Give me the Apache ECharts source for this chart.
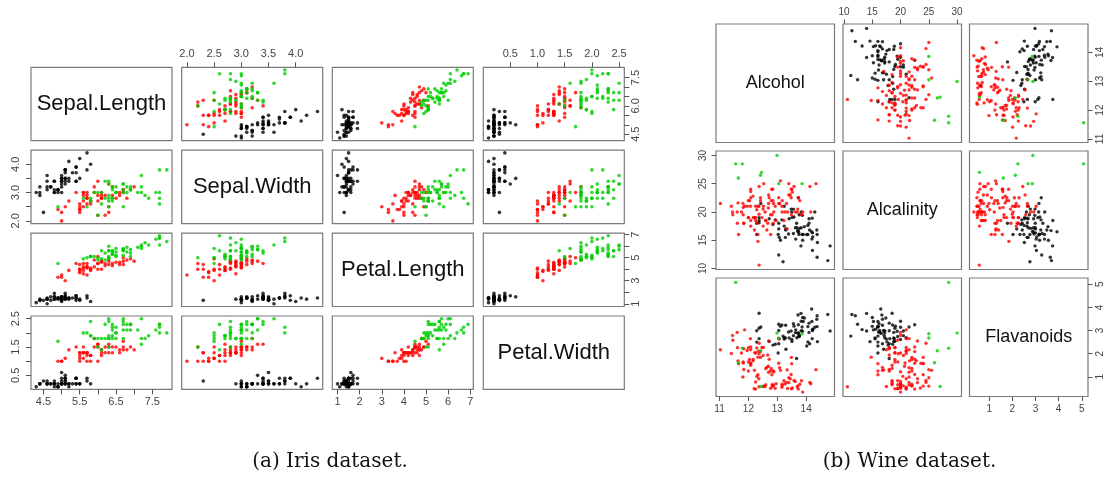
<!DOCTYPE html>
<html><head><meta charset="utf-8">
<script src="https://cdn.jsdelivr.net/npm/echarts@6/dist/echarts.min.js"></script>
<style>html,body{margin:0;padding:0;background:#fff}#c{width:1107px;height:477px}</style>
</head><body><div id="c"></div>
<script>
// ---------------- DATA ----------------
const irisVars = ['Sepal.Length','Sepal.Width','Petal.Length','Petal.Width'];
// rows: [Sepal.Length, Sepal.Width, Petal.Length, Petal.Width]
const irisSetosa = [
[5.1,3.5,1.4,0.2],[4.9,3.0,1.4,0.2],[4.7,3.2,1.3,0.2],[4.6,3.1,1.5,0.2],[5.0,3.6,1.4,0.2],
[5.4,3.9,1.7,0.4],[4.6,3.4,1.4,0.3],[5.0,3.4,1.5,0.2],[4.4,2.9,1.4,0.2],[4.9,3.1,1.5,0.1],
[5.4,3.7,1.5,0.2],[4.8,3.4,1.6,0.2],[4.8,3.0,1.4,0.1],[4.3,3.0,1.1,0.1],[5.8,4.0,1.2,0.2],
[5.7,4.4,1.5,0.4],[5.4,3.9,1.3,0.4],[5.1,3.5,1.4,0.3],[5.7,3.8,1.7,0.3],[5.1,3.8,1.5,0.3],
[5.4,3.4,1.7,0.2],[5.1,3.7,1.5,0.4],[4.6,3.6,1.0,0.2],[5.1,3.3,1.7,0.5],[4.8,3.4,1.9,0.2],
[5.0,3.0,1.6,0.2],[5.0,3.4,1.6,0.4],[5.2,3.5,1.5,0.2],[5.2,3.4,1.4,0.2],[4.7,3.2,1.6,0.2],
[4.8,3.1,1.6,0.2],[5.4,3.4,1.5,0.4],[5.2,4.1,1.5,0.1],[5.5,4.2,1.4,0.2],[4.9,3.1,1.5,0.1],
[5.0,3.2,1.2,0.2],[5.5,3.5,1.3,0.2],[4.9,3.1,1.5,0.1],[4.4,3.0,1.3,0.2],[5.1,3.4,1.5,0.2],
[5.0,3.5,1.3,0.3],[4.5,2.3,1.3,0.3],[4.4,3.2,1.3,0.2],[5.0,3.5,1.6,0.6],[5.1,3.8,1.9,0.4],
[4.8,3.0,1.4,0.3],[5.1,3.8,1.6,0.2],[4.6,3.2,1.4,0.2],[5.3,3.7,1.5,0.2],[5.0,3.3,1.4,0.2]];
const irisVersicolor = [
[7.0,3.2,4.7,1.4],[6.4,3.2,4.5,1.5],[6.9,3.1,4.9,1.5],[5.5,2.3,4.0,1.3],[6.5,2.8,4.6,1.5],
[5.7,2.8,4.5,1.3],[6.3,3.3,4.7,1.6],[4.9,2.4,3.3,1.0],[6.6,2.9,4.6,1.3],[5.2,2.7,3.9,1.4],
[5.0,2.0,3.5,1.0],[5.9,3.0,4.2,1.5],[6.0,2.2,4.0,1.0],[6.1,2.9,4.7,1.4],[5.6,2.9,3.6,1.3],
[6.7,3.1,4.4,1.4],[5.6,3.0,4.5,1.5],[5.8,2.7,4.1,1.0],[6.2,2.2,4.5,1.5],[5.6,2.5,3.9,1.1],
[5.9,3.2,4.8,1.8],[6.1,2.8,4.0,1.3],[6.3,2.5,4.9,1.5],[6.1,2.8,4.7,1.2],[6.4,2.9,4.3,1.3],
[6.6,3.0,4.4,1.4],[6.8,2.8,4.8,1.4],[6.7,3.0,5.0,1.7],[6.0,2.9,4.5,1.5],[5.7,2.6,3.5,1.0],
[5.5,2.4,3.8,1.1],[5.5,2.4,3.7,1.0],[5.8,2.7,3.9,1.2],[6.0,2.7,5.1,1.6],[5.4,3.0,4.5,1.5],
[6.0,3.4,4.5,1.6],[6.7,3.1,4.7,1.5],[6.3,2.3,4.4,1.3],[5.6,3.0,4.1,1.3],[5.5,2.5,4.0,1.3],
[5.5,2.6,4.4,1.2],[6.1,3.0,4.6,1.4],[5.8,2.6,4.0,1.2],[5.0,2.3,3.3,1.0],[5.6,2.7,4.2,1.3],
[5.7,3.0,4.2,1.2],[5.7,2.9,4.2,1.3],[6.2,2.9,4.3,1.3],[5.1,2.5,3.0,1.1],[5.7,2.8,4.1,1.3]];
const irisVirginica = [
[6.3,3.3,6.0,2.5],[5.8,2.7,5.1,1.9],[7.1,3.0,5.9,2.1],[6.3,2.9,5.6,1.8],[6.5,3.0,5.8,2.2],
[7.6,3.0,6.6,2.1],[4.9,2.5,4.5,1.7],[7.3,2.9,6.3,1.8],[6.7,2.5,5.8,1.8],[7.2,3.6,6.1,2.5],
[6.5,3.2,5.1,2.0],[6.4,2.7,5.3,1.9],[6.8,3.0,5.5,2.1],[5.7,2.5,5.0,2.0],[5.8,2.8,5.1,2.4],
[6.4,3.2,5.3,2.3],[6.5,3.0,5.5,1.8],[7.7,3.8,6.7,2.2],[7.7,2.6,6.9,2.3],[6.0,2.2,5.0,1.5],
[6.9,3.2,5.7,2.3],[5.6,2.8,4.9,2.0],[7.7,2.8,6.7,2.0],[6.3,2.7,4.9,1.8],[6.7,3.3,5.7,2.1],
[7.2,3.2,6.0,1.8],[6.2,2.8,4.8,1.8],[6.1,3.0,4.9,1.8],[6.4,2.8,5.6,2.1],[7.2,3.0,5.8,1.6],
[7.4,2.8,6.1,1.9],[7.9,3.8,6.4,2.0],[6.4,2.8,5.6,2.2],[6.3,2.8,5.1,1.5],[6.1,2.6,5.6,1.4],
[7.7,3.0,6.1,2.3],[6.3,3.4,5.6,2.4],[6.4,3.1,5.5,1.8],[6.0,3.0,4.8,1.8],[6.9,3.1,5.4,2.1],
[6.7,3.1,5.6,2.4],[6.9,3.1,5.1,2.3],[5.8,2.7,5.1,1.9],[6.8,3.2,5.9,2.3],[6.7,3.3,5.7,2.5],
[6.7,3.0,5.2,2.3],[6.3,2.5,5.0,1.9],[6.5,3.0,5.2,2.0],[6.2,3.4,5.4,2.3],[5.9,3.0,5.1,1.8]];
const irisTicks = [[4.5,5,5.5,6,6.5,7,7.5],[2,2.5,3,3.5,4],[1,2,3,4,5,6,7],[0.5,1,1.5,2,2.5]];
const irisDecimals = [1,1,0,1];
const irisTopLabels    = [null,[2,2.5,3,3.5,4],null,[0.5,1,1.5,2,2.5]];
const irisBottomLabels = [[4.5,5.5,6.5,7.5],null,[1,2,3,4,5,6,7],null];
const irisLeftLabels   = [null,[2,3,4],null,[0.5,1.5,2.5]];
const irisRightLabels  = [[4.5,6,7.5],null,[1,3,5,7],null];

const wineVars = ['Alcohol','Alcalinity','Flavanoids'];
// rows: [Alcohol, Alcalinity, Flavanoids]
const wineBlack = [
[14.23,15.6,3.06],[13.2,11.2,2.76],[13.16,18.6,3.24],[14.37,16.8,3.49],[13.24,21,2.69],[14.2,15.2,3.39],
[14.39,14.6,2.52],[14.06,17.6,2.51],[14.83,14,2.98],[13.86,16,3.15],[14.1,18,3.32],[14.12,16.8,2.43],
[13.75,16,2.76],[14.75,11.4,3.69],[14.38,12,3.64],[13.63,17.2,2.91],[14.3,20,3.14],[13.83,20,3.4],
[14.19,16.5,3.93],[13.64,15.2,3.03],[14.06,16,3.17],[12.93,18.6,2.41],[13.71,16.6,2.88],[12.85,17.8,2.37],
[13.5,20,2.61],[13.39,16.1,2.94],[13.3,17,2.19],[13.87,19.4,2.97],[14.02,16,2.33],[13.73,22.5,3.25],
[13.58,19.1,3.19],[13.68,17.2,2.69],[13.76,19.5,2.74],[13.51,19,2.53],[13.48,20.5,2.98],[13.28,15.5,2.68],
[13.05,18,2.43],[13.07,15.5,2.64],[14.22,13.2,3.04],[13.56,16.2,3.29],[13.41,18.8,2.68],[13.88,15,3.56],
[13.24,17.5,2.63],[13.05,17,3],[14.21,18.9,2.65],[14.38,16,3.17],[13.9,16,3.39],[14.1,18.8,2.92],
[13.94,17.4,3.54],[13.05,12.4,3.27],[13.83,17.2,2.99],[13.82,14,3.74],[13.77,17.1,2.79],[13.74,16.4,2.9],
[13.56,20.5,2.78],[14.22,16.3,3],[13.29,16.8,3.23],[13.72,16.7,3.67],
[13.67,18,1.79],[12.37,19,3.1],[12.37,18.1,2.65],[13.11,15,3.18],[13.03,16,2.03],[12.72,18.8,2.53],
[12.29,16,2.5],[12.37,18.5,3.75],[12.29,18,2.99],[12.43,21.5,3.15]];
const wineRed = [
[12.37,10.6,0.57],[12.33,16,1.09],[12.64,16.8,1.41],[12.17,19,1.75],[12.37,19.6,2],[13.34,17,1.3],
[12.21,16.8,1.28],[12.29,20.4,1.02],[13.49,24,1.84],[11.96,21,2.14],[11.66,16,1.57],[11.84,18,1.32],
[12.33,14.8,1.85],[12.7,23,2.55],[12,19,2.26],[12.08,24,1.58],[13.05,22.5,1.59],[11.84,18,2.21],
[12.67,18,1.94],[12.16,22.8,1.69],[11.64,21.6,1.69],[12.08,23.6,1.59],[12.08,18.5,1.5],[12,22,1.25],
[12.69,20.7,1.46],[12.29,18,2.25],[11.62,18,2.26],[12.47,19,2.27],[11.81,21.5,0.99],[12.08,17.5,2.17],
[12.6,18.5,1.36],[12.34,21,2.11],[11.82,19.5,1.64],[12.51,20.5,1.92],[12.42,22,1.84],[12.25,19,2.03],
[12.72,22.5,1.76],[12.22,19,2.04],[11.61,20,2.92],[11.46,19.5,2.58],[12.52,21,2.27],[11.76,20,2.03],
[11.41,21,2.01],[12.08,22.5,2.29],[11.03,21.5,2.17],[11.82,20.8,1.6],[12.42,22.5,2.09],[12.77,16,1.25],
[12,19,1.64],[11.45,20,2.79],[13.05,21.5,2.65],[11.87,21,3.03],[12.07,21,2.65],[12.37,24.5,2.45],
[12.04,22,1.75],
[12.86,18,1.25],[12.88,20,1.22],[12.81,24,1.09],[12.7,21.5,1.2],[12.51,17.5,0.58],[12.6,18.5,0.66],
[12.25,21,0.47],[12.53,25,0.6],[13.49,19.5,0.48],[12.84,24,0.6],[12.93,21,0.5],[13.36,20,0.5],
[13.52,23.5,0.52],[13.62,20,0.8],[12.25,18.5,0.78],[13.16,21,0.55],[13.88,20,0.34],[12.87,21.5,0.65],
[13.32,21.5,0.76],[13.08,21.5,1.39],[13.5,24,1.57],[12.79,22,1.36],[13.11,25.5,1.28],[13.23,18.5,0.83],
[12.58,20,0.58],[13.17,22,0.63],[13.84,19.5,0.83],[14.34,25,1.31],[13.48,22.5,1.1],[12.36,21,0.92],
[13.69,20,0.56],[12.85,22,0.6],[12.96,18.5,0.7],[13.78,22,0.68],[13.73,22.5,0.47],[13.45,23,0.92],
[12.82,19.5,0.66],[13.58,24.5,0.84],[13.4,25,0.96],[12.2,19,0.49],[12.77,19.5,0.51],[14.16,20,0.7],
[13.71,20.5,0.61],[13.4,23,0.75],[13.27,20,0.69],[13.17,20,0.68],[14.13,24.5,0.76]];
const wineGreen = [
[13.05,25,2.68],[13.86,25,2.86],[12.99,30,2.89],[11.65,26,1.61],[11.56,28.5,5.08],[12.42,26.5,2.13],
[11.79,28.5,2.24],[12.45,27,0.58]];
const wineTicks = [[11,12,13,14],[10,15,20,25,30],[1,2,3,4,5]];
const wineDecimals = [0,0,0];
const wineTopLabels    = [null,[10,15,20,25,30],null];
const wineBottomLabels = [[11,12,13,14],null,[1,2,3,4,5]];
const wineLeftLabels   = [null,[10,15,20,25,30],null];
const wineRightLabels  = [[11,12,13,14],null,[1,2,3,4,5]];

const captions = ['(a) Iris dataset.','(b) Wine dataset.'];

// ---------------- BUILD ----------------
const COL_BLACK = '#000000', COL_RED = '#ff0000', COL_GREEN = '#00cd00';
const grids = [], xAxes = [], yAxes = [], series = [], graphics = [];

function ranges(groups, nv) {
  const r = [];
  for (let v = 0; v < nv; v++) {
    let mn = Infinity, mx = -Infinity;
    groups.forEach(g => g.forEach(p => { if (p[v] < mn) mn = p[v]; if (p[v] > mx) mx = p[v]; }));
    const pad = (mx - mn) * 0.04;
    r.push([mn - pad, mx + pad]);
  }
  return r;
}

function addMatrix(M) {
  const n = M.vars.length;
  const rg = ranges(M.groups.map(g => g.data), n);
  for (let i = 0; i < n; i++) for (let j = 0; j < n; j++) {
    const g = grids.length;
    const left = M.lefts[j], top = M.tops[i];
    grids.push({left: left, top: top, width: M.w, height: M.h, show: true,
      borderColor: '#7a7a7a', borderWidth: 1.2, backgroundColor: 'rgba(0,0,0,0)',
      containLabel: false, outerBoundsMode: 'none'});
    const xi = xAxes.length;
    xAxes.push({gridIndex: g, type: 'value', min: rg[j][0], max: rg[j][1], show: false});
    const yi = yAxes.length;
    yAxes.push({gridIndex: g, type: 'value', min: rg[i][0], max: rg[i][1], show: false});
    const tickAxis = (pos, v, labels, isY, margin) => ({
      gridIndex: g, type: 'value', position: pos, min: rg[v][0], max: rg[v][1],
      axisLine: {show: false}, splitLine: {show: false},
      axisTick: {show: true, inside: false, length: M.tickLen, customValues: M.ticks[v],
        lineStyle: {color: '#555', width: 1}},
      axisLabel: {show: true, customValues: labels, margin: margin, rotate: isY ? 90 : 0,
        color: '#444', fontSize: M.tickFont, fontFamily: 'Liberation Sans',
        formatter: val => Number(val).toFixed(M.dec[v])}
    });
    if (i === 0 && M.top[j]) xAxes.push(tickAxis('top', j, M.top[j], false, M.mTop));
    if (i === n - 1 && M.bottom[j]) xAxes.push(tickAxis('bottom', j, M.bottom[j], false, M.mBottom));
    if (j === 0 && M.left[i]) yAxes.push(tickAxis('left', i, M.left[i], true, M.mLeft));
    if (j === n - 1 && M.right[i]) yAxes.push(tickAxis('right', i, M.right[i], true, M.mRight));
    if (i === j) {
      graphics.push({type: 'text', x: left + M.w / 2, y: top + M.h / 2, silent: true,
        style: {text: M.vars[i], fill: '#111', font: M.labelFont, fontSize: M.labelSize,
          fontFamily: 'Liberation Sans', textAlign: 'center', textVerticalAlign: 'middle',
          align: 'center', verticalAlign: 'middle'}});
    } else {
      M.groups.forEach(gr => series.push({type: 'scatter', xAxisIndex: xi, yAxisIndex: yi,
        data: gr.data.map(p => [p[j], p[i]]), symbol: 'circle', symbolSize: M.dot,
        itemStyle: {color: gr.color}, silent: true, animation: false}));
    }
  }
}

addMatrix({vars: irisVars,
  groups: [{data: irisSetosa, color: COL_BLACK}, {data: irisVersicolor, color: COL_RED}, {data: irisVirginica, color: COL_GREEN}],
  lefts: [31, 181.7, 332.3, 483.3], tops: [67.3, 150.2, 233.1, 316], w: 141, h: 73.4,
  ticks: irisTicks, dec: irisDecimals, top: irisTopLabels, bottom: irisBottomLabels,
  left: irisLeftLabels, right: irisRightLabels, tickLen: 5, tickFont: 11,
  mTop: 8, mBottom: 7, mLeft: 10, mRight: 6, dot: 3.6,
  labelSize: 22, labelFont: 'normal 22px "Liberation Sans"'});

addMatrix({vars: wineVars,
  groups: [{data: wineBlack, color: COL_BLACK}, {data: wineRed, color: COL_RED}, {data: wineGreen, color: COL_GREEN}],
  lefts: [716, 843, 969.5], tops: [24, 151, 278], w: 118.5, h: 118.5,
  ticks: wineTicks, dec: wineDecimals, top: wineTopLabels, bottom: wineBottomLabels,
  left: wineLeftLabels, right: wineRightLabels, tickLen: 4.5, tickFont: 10,
  mTop: 7, mBottom: 8, mLeft: 8, mRight: 7, dot: 3.4,
  labelSize: 18, labelFont: 'normal 18px "Liberation Sans"'});

graphics.push({type: 'text', x: 330, y: 462, silent: true,
  style: {text: captions[0], fill: '#111', font: 'normal 20px "DejaVu Serif"', textAlign: 'center', textVerticalAlign: 'middle', align: 'center', verticalAlign: 'middle'}});
graphics.push({type: 'text', x: 909.5, y: 462, silent: true,
  style: {text: captions[1], fill: '#111', font: 'normal 20px "DejaVu Serif"', textAlign: 'center', textVerticalAlign: 'middle', align: 'center', verticalAlign: 'middle'}});

const chart = echarts.init(document.getElementById('c'), null, {renderer: 'canvas'});
chart.setOption({
  animation: false,
  backgroundColor: '#ffffff',
  grid: grids, xAxis: xAxes, yAxis: yAxes, series: series,
  graphic: {elements: graphics}
});
</script></body></html>
